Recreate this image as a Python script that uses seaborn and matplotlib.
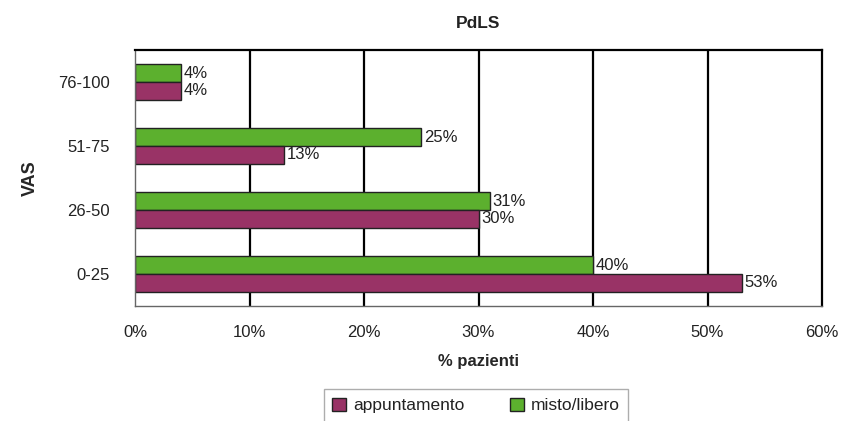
import matplotlib
matplotlib.use("Agg")
import matplotlib.pyplot as plt
from matplotlib.patches import Patch
import seaborn as sns
import pandas as pd

# VAS classes (top to bottom) and percentage of patients per schedule type
categories = ["76-100", "51-75", "26-50", "0-25"]
appuntamento = [4, 13, 30, 53]
misto_libero = [4, 25, 31, 40]
series_names = ["appuntamento", "misto/libero"]
x_ticks = [0, 10, 20, 30, 40, 50, 60]

colors = {"appuntamento": "#993366", "misto/libero": "#5cb02e"}
text_color = "#222222"

df = pd.DataFrame({
    "VAS": categories * 2,
    "valore": misto_libero + appuntamento,
    "serie": ["misto/libero"] * 4 + ["appuntamento"] * 4,
})

sns.set_style("white")
plt.rcParams["font.family"] = ["Liberation Sans", "DejaVu Sans"]
plt.rcParams["text.color"] = text_color
plt.rcParams["xtick.color"] = text_color
plt.rcParams["ytick.color"] = text_color

fig = plt.figure(figsize=(8.48, 4.21), dpi=100)
ax = fig.add_axes([135 / 848, 1 - 306 / 421, 687 / 848, 256 / 421])

sns.barplot(data=df, y="VAS", x="valore", hue="serie", order=categories,
            hue_order=["misto/libero", "appuntamento"], palette=colors,
            orient="h", width=0.55, edgecolor="#222222", linewidth=1.0,
            saturation=1, legend=False, ax=ax)

for cont in ax.containers:
    ax.bar_label(cont, labels=[f"{v:.0f}%" for v in cont.datavalues],
                 padding=2, fontsize=12, color=text_color)

ax.set_xlim(0, 60)
ax.set_ylim(3.5, -0.5)
ax.set_xticks(x_ticks)
ax.set_xticklabels([f"{t}%" for t in x_ticks], fontsize=12)
for t in x_ticks[1:-1]:
    ax.axvline(t, color="black", linewidth=1.6, zorder=0)

# category ticks on the y axis sit between groups
ax.set_yticks(range(len(categories)))
ax.set_yticklabels(categories, fontsize=12)
ax.tick_params(axis="y", which="major", length=0, pad=18)
ax.set_yticks([-0.5, 0.5, 1.5, 2.5, 3.5], minor=True)
ax.tick_params(axis="y", which="minor", length=5, direction="out",
               color="#555555", width=1)
ax.tick_params(axis="x", which="major", length=5, direction="out",
               color="#555555", width=1, pad=9)

for side, sp in ax.spines.items():
    sp.set_visible(True)
    sp.set_linewidth(1.6)
    sp.set_color("black")
ax.spines["left"].set_color("#666666")
ax.spines["left"].set_linewidth(1.0)
ax.spines["bottom"].set_color("#666666")
ax.spines["bottom"].set_linewidth(1.0)

ax.set_title("PdLS", fontsize=12.5, fontweight="bold", pad=16)
ax.set_xlabel("% pazienti", fontsize=12, fontweight="bold", labelpad=10)
ax.set_ylabel("VAS", fontsize=13, fontweight="bold", labelpad=14)

handles = [Patch(facecolor=colors[n], edgecolor="#222222", linewidth=1.0)
           for n in series_names]
leg = fig.legend(handles, series_names, loc="upper center",
                 bbox_to_anchor=(476 / 848, 1 - 389 / 421), ncol=2,
                 fontsize=12.5, frameon=True, fancybox=False,
                 handlelength=0.8, handleheight=0.8, columnspacing=2.6,
                 borderpad=0.5, handletextpad=0.4, borderaxespad=0)
leg.get_frame().set_edgecolor("#999999")
leg.get_frame().set_linewidth(1.0)

fig.savefig("out.png", dpi=100)
